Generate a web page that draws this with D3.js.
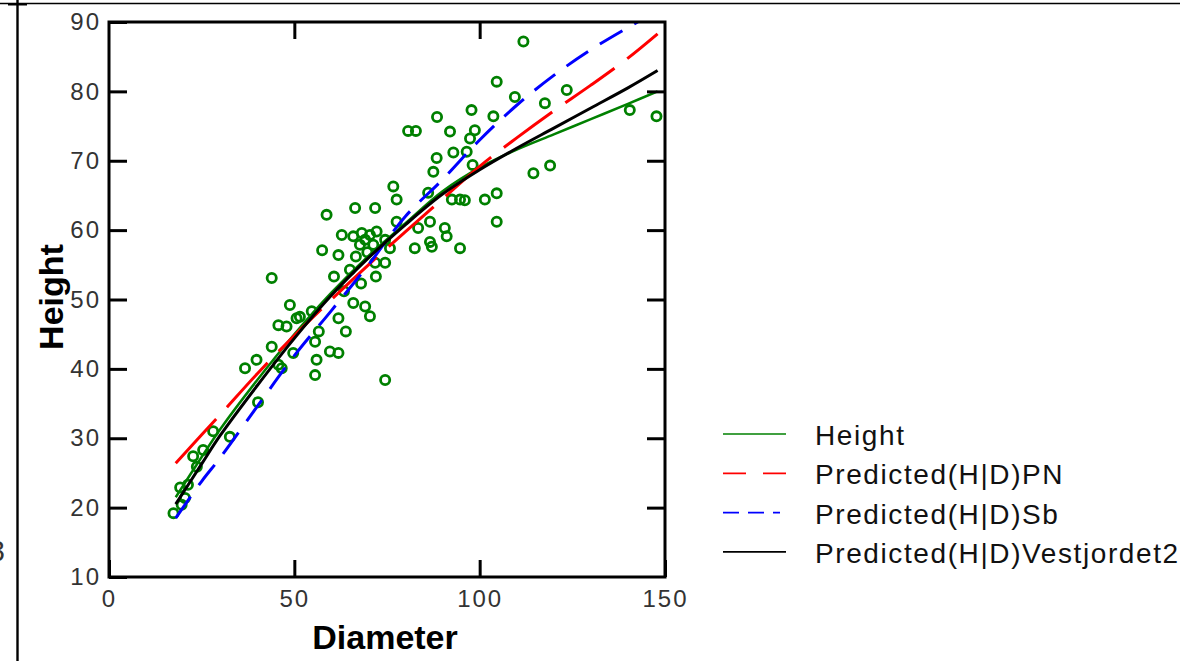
<!DOCTYPE html>
<html>
<head>
<meta charset="utf-8">
<script src="https://cdn.jsdelivr.net/npm/d3@7"></script>
<style>
  html, body { margin: 0; padding: 0; background: #fff; }
  svg { display: block; font-family: "Liberation Sans", Arial, sans-serif; }
</style>
</head>
<body>
<svg id="chart" width="1180" height="661"></svg>
<script>
// Observed trees: diameter (cm) and height (m)
const diameter = [
  17.4, 19.6, 20.5, 19.2, 21.3, 23.7, 22.7, 25.4, 28.1, 32.6, 40.2,
  57.5, 61.9, 66.6, 69.7, 74.5, 43.9, 60.7, 65.0, 68.0, 72.0, 63.4,
  48.8, 54.7, 50.6, 45.7, 47.9, 61.9, 65.9, 69.1, 70.4, 63.9, 56.6,
  43.9, 49.7, 55.6, 59.6, 61.9, 56.0, 39.8, 36.7, 45.7, 46.6, 55.6, 74.5,
  88.4, 92.9, 98.1, 87.5, 114.5, 119.0, 76.7, 77.6, 86.1, 92.5, 94.7,
  96.0, 101.4, 104.6, 104.6, 58.7, 66.4, 71.8, 77.6, 86.6, 90.6, 83.4,
  91.1, 86.6, 87.1, 94.7, 82.5, 62.8, 65.9, 68.2, 70.4, 72.2, 69.1,
  67.7, 71.3, 74.5, 75.8, 71.8, 51.5,
  111.8, 104.6, 109.5, 123.5, 117.6, 97.8, 103.7, 92.0, 98.7, 97.4, 96.5,
  140.5, 147.7, 80.7, 82.8, 88.5
];
const height = [
  19.2, 20.4, 21.4, 22.9, 23.3, 25.9, 27.4, 28.3, 31.0, 30.2, 35.2,
  57.1, 56.4, 56.2, 56.8, 55.3, 53.1, 53.3, 54.3, 52.3, 53.3, 51.2,
  49.2, 48.3, 47.3, 46.3, 46.1, 47.3, 49.5, 49.0, 47.6, 45.4, 45.4,
  43.2, 42.3, 43.9, 42.5, 42.3, 41.3, 41.3, 40.1, 40.6, 40.1, 39.1, 38.4,
  70.4, 71.2, 69.4, 68.4, 68.2, 69.3, 66.3, 64.4, 65.4, 64.4, 64.4,
  64.3, 64.4, 65.3, 61.2, 62.2, 63.2, 63.2, 61.2, 61.2, 60.3, 60.3,
  59.1, 58.3, 57.6, 57.4, 57.4, 59.3, 59.1, 59.6, 59.3, 59.8, 58.6,
  57.9, 57.9, 58.6, 57.4, 55.3, 47.5,
  87.2, 81.4, 79.2, 80.2, 78.3, 77.3, 76.4, 74.2, 74.4, 73.2, 71.3,
  77.3, 76.4, 74.3, 74.3, 76.3
];

// Diameter grid on which the fitted curves are evaluated
const dGrid = [18, 25, 30, 40, 50, 60, 70, 80, 90, 100, 110, 120, 130, 140, 148];

// Smoothed observed heights and the three height-diameter models
const smoothHeight   = [21.5, 27.3, 31.3, 38.4, 45.0, 51.0, 56.3, 61.0, 65.6, 69.0, 71.6, 73.8, 76.0, 78.2, 80.0];
const predPN         = [26.4, 30.5, 33.4, 39.3, 44.8, 50.0, 55.0, 59.8, 64.5, 69.2, 73.3, 77.2, 80.9, 84.8, 88.3];
const predSb         = [18.5, 23.8, 27.2, 34.6, 41.9, 48.4, 55.0, 62.0, 67.3, 73.0, 78.0, 82.3, 86.0, 89.2, 91.6];
const predVestjordet = [20.5, 26.3, 30.4, 37.6, 44.4, 50.6, 56.0, 60.8, 65.2, 68.7, 71.8, 74.7, 77.6, 80.5, 83.0];

const xTicks = [0, 50, 100, 150];
const yTicks = [10, 20, 30, 40, 50, 60, 70, 80, 90];

const legendLabels = ["Height", "Predicted(H|D)PN", "Predicted(H|D)Sb", "Predicted(H|D)Vestjordet2"];

const series = [
  { name: legendLabels[0], values: smoothHeight,   color: "#008000", width: 2.5, dash: null,    legendDash: null,    legendEnd: 786 },
  { name: legendLabels[1], values: predPN,         color: "#ff0000", width: 3,   dash: "60,16", legendDash: "23,17", legendEnd: 786 },
  { name: legendLabels[2], values: predSb,         color: "#0000ff", width: 3,   dash: "26,14", legendDash: "16,9",  legendEnd: 780 },
  { name: legendLabels[3], values: predVestjordet, color: "#000000", width: 3,   dash: null,    legendDash: null,    legendEnd: 786 }
];

const svg = d3.select("#chart");
const W = 1180, H = 661;
const plot = { left: 109, right: 665, top: 22, bottom: 577 };

// page frame lines
svg.append("line").attr("x1", 0).attr("x2", W).attr("y1", 3.5).attr("y2", 3.5)
  .attr("stroke", "#000").attr("stroke-width", 1.6);
svg.append("line").attr("x1", 8).attr("x2", 27).attr("y1", 4.5).attr("y2", 4.5)
  .attr("stroke", "#000").attr("stroke-width", 2);
svg.append("line").attr("x1", 17.5).attr("x2", 17.5).attr("y1", 0).attr("y2", H)
  .attr("stroke", "#000").attr("stroke-width", 2.4);
svg.append("text").attr("x", 5).attr("y", 561).attr("text-anchor", "end")
  .attr("font-size", 29).attr("fill", "#333").text("3");

const x = d3.scaleLinear().domain([0, 150]).range([plot.left, plot.right]);
const y = d3.scaleLinear().domain([10, 90]).range([plot.bottom, plot.top]);

svg.append("clipPath").attr("id", "plot-clip")
  .append("rect")
  .attr("x", plot.left).attr("y", plot.top)
  .attr("width", plot.right - plot.left).attr("height", plot.bottom - plot.top);

// observations
const pts = diameter.map((d, i) => ({ d, h: height[i] }));
svg.append("g")
  .selectAll("circle")
  .data(pts)
  .join("circle")
  .attr("cx", p => x(p.d))
  .attr("cy", p => y(p.h))
  .attr("r", 4.6)
  .attr("fill", "none")
  .attr("stroke", "#008000")
  .attr("stroke-width", 2.8);

// curves
const line = d3.line()
  .x((v, i) => x(dGrid[i]))
  .y(v => y(v))
  .curve(d3.curveCatmullRom.alpha(0.5));

const curves = svg.append("g").attr("clip-path", "url(#plot-clip)");
series.forEach(s => {
  curves.append("path")
    .attr("d", line(s.values))
    .attr("fill", "none")
    .attr("stroke", s.color)
    .attr("stroke-width", s.width)
    .attr("stroke-dasharray", s.dash)
    .attr("stroke-linejoin", "round");
});

// axes: inward ticks on all four sides
const tickStyle = g => {
  g.select(".domain").remove();
  g.selectAll(".tick line").attr("stroke", "#000").attr("stroke-width", 3);
  g.selectAll("text")
    .attr("font-family", "\"Liberation Sans\", Arial, sans-serif")
    .attr("font-size", 24)
    .attr("letter-spacing", 2)
    .attr("fill", "#333");
};

svg.append("g")
  .attr("transform", `translate(${plot.left},0)`)
  .call(d3.axisLeft(y).tickValues(yTicks).tickSize(-18).tickSizeOuter(0).tickPadding(8))
  .call(tickStyle);

svg.append("g")
  .attr("transform", `translate(${plot.right},0)`)
  .call(d3.axisRight(y).tickValues(yTicks.slice(1, -1)).tickSize(-18).tickSizeOuter(0).tickFormat(""))
  .call(tickStyle);

svg.append("g")
  .attr("transform", `translate(0,${plot.bottom})`)
  .call(d3.axisBottom(x).tickValues(xTicks).tickSize(-17).tickSizeOuter(0).tickPadding(13))
  .call(tickStyle);

svg.append("g")
  .attr("transform", `translate(0,${plot.top})`)
  .call(d3.axisTop(x).tickValues(xTicks.slice(1, -1)).tickSize(-17).tickSizeOuter(0).tickFormat(""))
  .call(tickStyle);

// plot frame
svg.append("rect")
  .attr("x", plot.left).attr("y", plot.top)
  .attr("width", plot.right - plot.left).attr("height", plot.bottom - plot.top)
  .attr("fill", "none").attr("stroke", "#000").attr("stroke-width", 3);

// axis titles
svg.append("text")
  .attr("x", 385)
  .attr("y", 649)
  .attr("text-anchor", "middle")
  .attr("font-size", 34)
  .attr("font-weight", "bold")
  .text("Diameter");

svg.append("text")
  .attr("transform", "translate(63,297) rotate(-90)")
  .attr("text-anchor", "middle")
  .attr("font-size", 34)
  .attr("font-weight", "bold")
  .text("Height");

// legend
const legend = svg.append("g");
series.forEach((s, i) => {
  const ly = 434 + i * 39.3;
  legend.append("line")
    .attr("x1", 723).attr("x2", s.legendEnd)
    .attr("y1", ly).attr("y2", ly)
    .attr("stroke", s.color)
    .attr("stroke-width", 1.7)
    .attr("stroke-dasharray", s.legendDash);
  legend.append("text")
    .attr("x", 815)
    .attr("y", ly + 11)
    .attr("font-size", 28)
    .attr("letter-spacing", 1.6)
    .attr("fill", "#111")
    .text(s.name);
});
</script>
</body>
</html>
